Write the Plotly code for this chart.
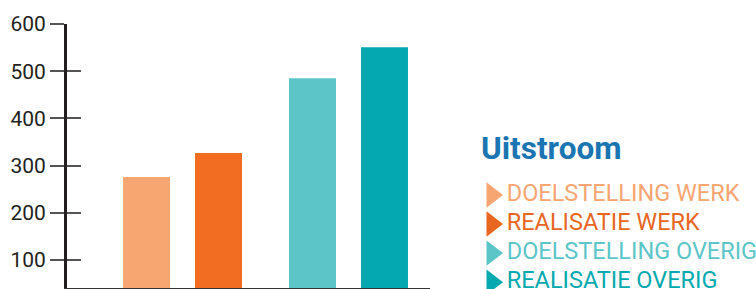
import plotly.graph_objects as go

categories = ["Werk", "Overig"]
doelstelling = [276, 485]
realisatie = [327, 551]
legend_title = "Uitstroom"
legend_labels = ["DOELSTELLING WERK", "REALISATIE WERK", "DOELSTELLING OVERIG", "REALISATIE OVERIG"]
bar_colors_doel = ["#F7A571", "#5BC5C8"]
bar_colors_real = ["#F26C22", "#03A9AE"]
legend_colors = ["#F7A571", "#E8661F", "#5BC5C8", "#03A9AE"]
tick_vals = [100, 200, 300, 400, 500, 600]

W_PAPER = 756 - 67  # paper width in px
def dx(pix):
    return (pix - 67) / W_PAPER
def dy(pix):
    return (288 - pix) / 264.0

fig = go.Figure()
fig.add_trace(go.Bar(x=categories, y=doelstelling, marker=dict(color=bar_colors_doel, line=dict(width=0)),
                     showlegend=False, name="Doelstelling"))
fig.add_trace(go.Bar(x=categories, y=realisatie, marker=dict(color=bar_colors_real, line=dict(width=0)),
                     showlegend=False, name="Realisatie"))
fig.add_trace(go.Scatter(x=[None], y=[None], yaxis="y2", showlegend=False, hoverinfo="skip"))

# legend: triangle markers with labels on a separate hidden axis pair
fig.add_trace(go.Scatter(x=[0] * len(legend_labels), y=legend_labels, xaxis="x3", yaxis="y3",
                         mode="markers+text", text=legend_labels, textposition="middle right",
                         marker=dict(symbol="triangle-right", size=22, color=legend_colors, line=dict(width=0)),
                         textfont=dict(size=23.5, color=legend_colors, family="Roboto"),
                         cliponaxis=False, showlegend=False, hoverinfo="skip"))

fig.add_annotation(text=f"<b>{legend_title}</b>", xref="paper", yref="paper", x=dx(479), y=dy(148),
                   xanchor="left", yanchor="middle", showarrow=False,
                   font=dict(size=31.5, color="#1B75B2", family="Roboto"))

fig.update_layout(
    width=756, height=289,
    margin=dict(l=67, r=0, t=24, b=1, autoexpand=False),
    paper_bgcolor="white", plot_bgcolor="white",
    barmode="group", bargap=0.133, bargroupgap=0.347,
    showlegend=False,
    font=dict(family="Roboto, sans-serif", color="#231F20"),
    xaxis=dict(domain=[0, dx(430)], type="category", range=[-0.696, 1.491], showticklabels=False, ticks="",
               showgrid=False, zeroline=False, showline=True, linecolor="#333333", linewidth=3),
    yaxis=dict(range=[41, 600], tickvals=tick_vals, ticks="outside", ticklen=14, tickwidth=1.5,
               tickcolor="#555555", showgrid=False, zeroline=False, showline=True,
               linecolor="#231F20", linewidth=3, tickfont=dict(size=21, color="#231F20")),
    yaxis2=dict(range=[41, 600], tickvals=tick_vals, ticks="inside", ticklen=14, tickwidth=1.5,
                tickcolor="#555555", overlaying="y", side="left", anchor="x",
                showticklabels=False, showgrid=False, zeroline=False, showline=False),
    xaxis3=dict(domain=[dx(482), dx(502)], range=[-1, 1], visible=False, anchor="y3", fixedrange=True),
    yaxis3=dict(domain=[0, dy(177.5)], type="category", categoryorder="array", categoryarray=legend_labels,
                range=[3.2, -0.6], visible=False, anchor="x3", fixedrange=True),
)

fig.write_html("out.html", config={"displayModeBar": False},
               post_script="document.body.style.margin='0';document.body.style.padding='0';")
